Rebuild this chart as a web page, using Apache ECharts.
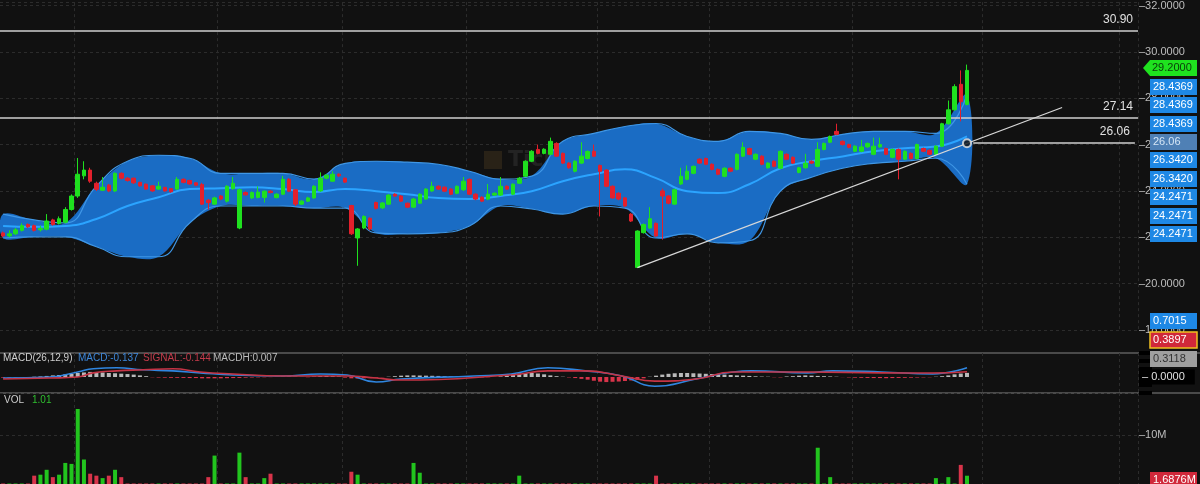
<!DOCTYPE html>
<html>
<head>
<meta charset="utf-8">
<script src="https://cdn.jsdelivr.net/npm/echarts@6/dist/echarts.min.js"></script>
<style>
  html, body { margin: 0; padding: 0; background: #111111; }
  #main { width: 1200px; height: 484px; }
</style>
</head>
<body>
<div id="main"></div>
<script type="text/javascript">
// candles: [open, close, low, high]
var ohlc = [
  [22.19,22.06,22.00,22.25],[22.06,22.15,22.00,22.30],[22.15,22.32,22.10,22.40],[22.30,22.50,22.25,22.60],[22.55,22.45,22.40,22.60],
  [22.50,22.30,22.25,22.55],[22.32,22.38,22.25,22.50],[22.35,22.70,22.30,23.00],[22.75,22.55,22.50,22.80],[22.60,22.80,22.55,22.90],
  [22.65,23.20,22.60,23.30],[23.20,23.78,23.15,23.85],[23.78,24.72,23.70,25.42],[24.65,24.90,24.50,25.28],[24.90,24.42,24.35,25.00],
  [24.33,24.07,24.00,24.40],[24.03,24.16,24.00,24.60],[24.25,24.00,23.95,24.30],[24.00,24.76,23.95,24.80],[24.76,24.55,24.50,24.80],
  [24.55,24.45,24.40,24.60],[24.55,24.35,24.30,24.58],[24.37,24.22,24.18,24.40],[24.29,24.08,24.05,24.32],[24.22,24.00,23.96,24.25],
  [24.08,24.20,24.05,24.40],[24.15,24.00,23.97,24.18],[24.10,23.96,23.92,24.12],[24.08,24.50,24.05,24.60],[24.50,24.37,24.33,24.55],
  [24.45,24.30,24.27,24.48],[24.35,24.25,24.20,24.38],[24.28,23.43,23.40,24.35],[23.60,23.50,23.20,23.65],[23.43,23.70,23.40,23.75],
  [23.78,23.65,23.60,23.82],[23.56,24.20,23.50,24.25],[24.10,24.33,24.05,24.60],[22.40,24.05,22.35,24.10],[23.93,23.83,23.80,23.98],
  [23.70,23.93,23.65,23.98],[23.72,23.95,23.68,24.20],[23.72,23.99,23.50,24.02],[23.99,23.93,23.90,24.03],[23.71,23.86,23.68,23.90],
  [23.86,24.50,23.82,24.65],[24.50,23.99,23.95,24.55],[24.05,23.43,23.35,24.08],[23.43,23.56,23.40,23.60],[23.56,23.70,23.52,23.75],
  [23.70,24.20,23.66,24.25],[24.00,24.55,23.96,24.80],[24.55,24.68,24.50,24.72],[24.42,24.72,24.40,24.85],[24.72,24.65,24.60,24.76],
  [24.55,24.38,24.34,24.58],[23.37,22.15,22.10,23.40],[21.97,22.36,20.77,22.40],[22.40,22.90,22.35,22.95],[22.82,22.36,22.30,22.86],
  [23.50,23.25,23.20,23.54],[23.27,23.48,23.22,23.52],[23.43,23.82,23.40,23.86],[23.86,23.78,23.74,23.90],[23.78,23.56,23.52,23.82],
  [23.47,23.30,23.26,23.50],[23.30,23.65,23.26,23.70],[23.47,23.86,23.44,23.90],[23.65,24.08,23.62,24.12],[24.00,24.20,23.96,24.40],
  [24.20,24.08,24.04,24.24],[24.16,23.99,23.95,24.20],[24.08,23.86,23.82,24.12],[23.90,24.20,23.86,24.24],[24.05,24.42,24.00,24.60],
  [24.50,23.86,23.82,24.54],[23.86,23.65,23.60,23.90],[23.73,23.56,23.52,23.77],[23.65,23.86,23.60,24.30],[23.82,23.90,23.78,23.94],
  [23.82,24.20,23.78,24.60],[24.20,24.08,24.04,24.24],[23.86,24.29,23.82,24.33],[24.33,24.55,24.30,24.60],[24.63,25.28,24.60,25.32],
  [25.28,25.71,25.24,25.76],[25.79,25.62,25.58,26.00],[25.62,25.80,25.58,25.84],[25.58,26.14,25.54,26.30],[26.05,25.50,25.46,26.10],
  [25.62,25.20,25.16,25.66],[25.20,25.00,24.96,25.24],[24.85,25.28,24.80,25.32],[25.20,25.50,25.16,26.10],[25.40,25.70,25.36,25.75],
  [25.71,25.50,25.46,26.00],[25.10,24.85,22.90,25.14],[24.90,24.20,24.16,24.94],[24.20,23.70,23.66,24.24],[23.90,23.65,23.60,23.94],
  [23.70,23.35,23.30,23.74],[23.00,22.70,22.66,23.04],[20.70,22.27,20.69,22.30],[22.20,22.55,22.16,22.60],[22.40,22.80,22.36,23.30],
  [22.60,22.06,22.02,22.64],[24.00,23.78,21.90,24.10],[23.78,23.47,23.42,23.82],[23.43,24.05,23.40,24.10],[24.30,24.63,24.26,25.00],
  [24.50,24.85,24.46,25.10],[24.76,25.06,24.72,25.10],[25.37,25.20,25.16,25.41],[25.40,25.15,25.11,25.44],[25.15,24.93,24.89,25.19],
  [24.93,24.72,24.68,24.97],[24.63,24.98,24.59,25.02],[24.98,24.85,24.81,25.02],[24.93,25.58,24.89,25.62],[25.50,25.88,25.46,26.10],
  [25.83,25.58,25.54,25.87],[25.37,25.58,25.33,25.62],[25.50,25.15,25.11,25.54],[25.00,25.20,24.96,25.24],[25.28,25.06,25.02,25.32],
  [24.98,25.71,24.94,25.75],[25.58,25.37,25.33,25.62],[25.45,25.20,25.16,25.49],[24.80,25.00,24.76,25.04],[25.00,25.20,24.96,25.60],
  [25.28,25.20,25.16,25.32],[25.06,25.79,25.02,26.10],[25.79,26.05,25.75,26.09],[26.10,26.35,26.06,26.39],[26.57,26.44,26.40,26.90],
  [26.14,26.00,25.96,26.18],[26.00,25.88,25.84,26.04],[25.71,25.93,25.67,25.97],[25.71,25.90,25.67,26.20],[25.90,26.05,25.86,26.09],
  [25.58,25.93,25.54,26.30],[25.90,26.00,25.86,26.30],[25.83,25.58,25.54,25.87],[25.45,25.79,25.41,25.83],[25.79,25.37,24.50,25.83],
  [25.37,25.71,25.33,25.75],[25.62,25.40,25.36,25.66],[25.40,26.00,25.36,26.04],[25.83,25.71,25.67,25.87],[25.75,25.58,25.54,25.79],
  [25.58,25.93,25.54,25.97],[25.93,26.90,25.89,26.94],[26.90,27.50,26.86,27.90],[27.50,28.50,27.46,28.60],[28.60,27.85,27.00,29.20],
  [27.73,29.20,27.69,29.45]
];

// bollinger bands, read every 5th candle
var bandIdx = [0,5,10,15,20,25,30,35,40,45,50,55,60,65,70,75,80,85,90,95,100,105,110,115,120,125,130,135,140,145,150,155];
var bandUpper = [23.00,22.75,22.62,24.21,25.28,25.54,25.41,24.76,24.76,24.76,24.51,25.19,25.28,25.24,25.15,24.85,24.51,24.64,26.14,26.48,26.78,26.91,26.35,26.14,26.57,26.48,26.22,26.44,26.57,26.57,26.48,28.15];
var bandMid = [22.49,22.45,22.49,22.79,23.35,23.73,24.08,24.12,24.16,24.08,23.95,24.08,23.99,23.86,23.69,23.65,23.78,23.99,24.42,24.72,24.93,24.55,23.99,23.91,24.29,24.98,25.28,25.49,25.71,25.84,25.92,26.35];
var bandLower = [21.97,22.02,22.02,21.59,21.16,21.16,22.62,23.35,23.35,23.35,23.26,23.26,22.19,22.15,22.19,22.49,23.35,23.22,23.00,23.35,23.26,21.97,22.15,21.76,21.85,23.99,24.59,24.98,25.19,25.28,25.41,24.29];

// MACD lines [candle index, value]
var macdLine = [[0,-0.08],[7.5,0],[12,0.38],[14.5,0.62],[18.3,0.69],[22.5,0.54],[27.3,0.46],[31.7,0.31],[37,0.15],[45,0.08],[51,0.23],[55.3,0.15],[60,-0.38],[64,-0.15],[75.7,0.08],[81.7,0.23],[87.6,0.69],[93.6,0.46],[99.5,0.08],[104.8,-0.69],[111.4,-0.15],[117.4,0.38],[120.4,0.46],[129.3,0.31],[133.4,0.46],[141.2,0.38],[149.5,0.23],[155,0.70]];
var signalLine = [[0,-0.15],[7.5,-0.08],[12,0],[14.5,0.31],[18.3,0.46],[22.5,0.54],[27.3,0.62],[31.7,0.38],[37,0.23],[45,0.08],[51,0.08],[55.3,0.08],[60,-0.08],[64,-0.23],[81.7,0.15],[87.6,0.46],[93.6,0.46],[99.5,0.08],[104.8,-0.31],[111.4,-0.15],[117.4,0.38],[129.3,0.38],[141.2,0.31],[149.5,0.30],[155,0.39]];
var macdHist = [
  -0.05,-0.05,-0.04,-0.03,-0.02,0.02,0.04,0.08,0.12,0.15,
  0.20,0.25,0.30,0.34,0.38,0.36,0.34,0.30,0.28,0.25,
  0.22,0.18,0.12,0.06,-0.02,-0.04,-0.05,-0.06,-0.06,-0.07,
  -0.08,-0.08,-0.10,-0.10,-0.10,-0.10,-0.09,-0.08,-0.07,-0.05,
  -0.04,-0.03,-0.02,-0.01,0.01,0.02,0.03,0.02,0.01,-0.02,
  0.03,0.06,0.08,0.06,0.04,-0.05,-0.10,-0.12,-0.10,-0.08,
  -0.05,-0.02,0.02,0.06,0.10,0.12,0.12,0.11,0.10,0.09,
  0.08,0.06,0.04,0.02,0.01,-0.02,-0.04,-0.03,-0.02,0.01,
  0.05,0.12,0.20,0.26,0.28,0.30,0.26,0.20,0.12,0.06,
  0.02,-0.03,-0.08,-0.14,-0.20,-0.28,-0.35,-0.38,-0.36,-0.34,
  -0.30,-0.26,-0.20,-0.10,0.02,0.10,0.18,0.24,0.28,0.30,
  0.30,0.28,0.26,0.24,0.22,0.20,0.18,0.15,0.12,0.10,
  0.08,0.05,0.03,0.02,-0.02,-0.03,0.04,0.06,0.10,0.12,
  0.10,0.08,0.06,0.04,0.02,-0.01,-0.03,-0.05,-0.06,-0.07,
  -0.08,-0.08,-0.09,-0.08,-0.07,-0.06,-0.05,-0.04,-0.03,-0.02,
  0.02,0.06,0.12,0.20,0.26,0.31
];

// volume in millions (small ones sit below the visible edge)
var volume = [
  0.1,0.1,0.1,0.1,0.1,1.7,1.9,2.9,1.4,1.9,
  4.3,4.1,15.3,5.0,2.1,1.7,1.2,1.7,2.9,1.4,
  0.1,0.1,0.1,0.1,0.1,0.1,0.1,0.1,0.1,0.1,
  0.1,0.1,0.1,1.4,5.8,0.1,0.1,0.1,6.4,1.4,
  0.1,0.1,1.2,2.1,0.1,0.1,0.1,0.1,0.1,0.1,
  0.1,0.1,0.1,0.1,0.1,0.1,2.5,1.9,0.1,0.1,
  0.1,0.1,0.1,0.1,0.1,0.1,4.3,2.3,0.1,0.1,
  0.1,0.1,0.1,0.1,0.1,0.1,0.1,0.1,0.1,0.1,
  0.1,0.1,0.1,1.7,0.1,0.1,0.1,0.1,0.1,0.1,
  0.1,0.1,0.1,0.1,0.1,0.1,0.1,0.1,0.1,0.1,
  0.1,0.1,0.1,0.1,0.1,1.7,0.1,0.1,0.1,0.1,
  0.1,0.1,0.1,0.1,0.1,0.1,0.1,0.1,0.1,0.1,
  0.1,0.1,0.1,0.1,0.1,0.1,0.1,0.1,0.1,0.1,
  0.1,7.4,0.1,1.4,0.1,0.1,0.1,0.1,0.1,0.1,
  0.1,0.1,0.1,0.1,0.1,0.1,0.1,0.1,0.1,0.1,
  1.2,0.1,1.4,0.1,3.9,1.69
];

var hLines = [30.90, 27.14];
var supportLevel = 26.06;
var trendLine = [[102, 20.69], [170.3, 27.60]];
var totalSlots = 183;

var UP = '#1fe01f', DOWN = '#e3202c';
var cats = [];
for (var i = 0; i < totalSlots; i++) cats.push(String(i));
var vSplit = [12, 35, 55, 75, 96, 114, 137, 158, 180];
function splitFn(idx) { return vSplit.indexOf(idx) >= 0; }
var dash = { show: true, interval: splitFn, lineStyle: { color: '#2c2c2c', type: [3, 3] } };

function pairs(idx, vals) { return idx.map(function (k, j) { return [k, vals[j]]; }); }

var volData = volume.map(function (v, j) {
  var c = ohlc[j];
  return { value: v, itemStyle: { color: c[1] >= c[0] ? '#22c41e' : '#d8344a' } };
});
var histData = macdHist.map(function (v) {
  return { value: v, itemStyle: { color: v >= 0 ? '#b9b9b9' : '#d8344a' } };
});

var chart = echarts.init(document.getElementById('main'));

var tags = [
  ['28.4369', 87], ['28.4369', 105], ['28.4369', 124], ['26.06', 142, '#4f80b5', '#d6e6f6'],
  ['26.3420', 160], ['26.3420', 179], ['24.2471', 197], ['24.2471', 216], ['24.2471', 234],
  ['0.7015', 321], ['0.3897', 340, '#d0283a', '#fff', '#f0c020'], ['0.3118', 359, '#a0a0a0', '#333'],
  ['1.6876M', 480, '#d0283a', '#fff']
];
var graphics = [];
tags.forEach(function (t) {
  graphics.push({
    type: 'group', x: 1150, y: t[1] - 8, z: 100,
    children: [
      { type: 'rect', z: 100, shape: { width: 47, height: 16 },
        style: { fill: t[2] || '#1e88e5', stroke: t[4] || null, lineWidth: t[4] ? 1.5 : 0 } },
      { type: 'text', z: 101, x: 3, y: 2, style: { text: t[0], fill: t[3] || '#fff', fontSize: 11, fontFamily: 'Liberation Sans' } }
    ]
  });
});
graphics.push({
  type: 'group', x: 1143, y: 60, z: 100,
  children: [
    { type: 'polygon', z: 100, shape: { points: [[0, 8], [7, 0], [54, 0], [54, 16], [7, 16]] }, style: { fill: '#1fe21f' } },
    { type: 'text', z: 101, x: 9, y: 2, style: { text: '29.2000', fill: '#0b3b0b', fontSize: 11, fontFamily: 'Liberation Sans' } }
  ]
});
graphics.push(
  { type: 'line', shape: { x1: 0, y1: 353, x2: 1200, y2: 353 }, style: { stroke: '#4a4a4a', lineWidth: 2 } },
  { type: 'line', shape: { x1: 0, y1: 393, x2: 1200, y2: 393 }, style: { stroke: '#4a4a4a', lineWidth: 2 } },
  { type: 'text', x: 3, y: 353, style: { text: 'MACD(26,12,9)', fill: '#cfcfcf', fontSize: 10, fontFamily: 'Liberation Sans' } },
  { type: 'text', x: 78, y: 353, style: { text: 'MACD:-0.137', fill: '#3d86d8', fontSize: 10, fontFamily: 'Liberation Sans' } },
  { type: 'text', x: 143, y: 353, style: { text: 'SIGNAL:-0.144', fill: '#c23a4a', fontSize: 10, fontFamily: 'Liberation Sans' } },
  { type: 'text', x: 213, y: 353, style: { text: 'MACDH:0.007', fill: '#bcbcbc', fontSize: 10, fontFamily: 'Liberation Sans' } },
  { type: 'text', x: 4, y: 395, style: { text: 'VOL', fill: '#cfcfcf', fontSize: 10, fontFamily: 'Liberation Sans' } },
  { type: 'text', x: 32, y: 395, style: { text: '1.01', fill: '#2fbf2f', fontSize: 10, fontFamily: 'Liberation Sans' } },
  { type: 'rect', shape: { x: 484, y: 151, width: 18, height: 18 }, style: { fill: 'rgba(255,190,80,0.10)' } },
  { type: 'text', x: 508, y: 149, style: { text: 'TickerChart', fill: 'rgba(255,255,255,0.08)', fontSize: 22, fontWeight: 'bold', fontFamily: 'DejaVu Sans' } }
);

chart.setOption({
  backgroundColor: '#111111',
  animation: false,
  grid: [
    { left: 0, right: 62, top: 0, height: 330 },
    { left: 0, right: 62, top: 353, height: 40 },
    { left: 0, right: 62, top: 393, height: 96 }
  ],
  xAxis: [
    { type: 'category', gridIndex: 0, data: cats, axisLine: { show: false }, axisTick: { show: false }, axisLabel: { show: false }, splitLine: dash },
    { type: 'value', gridIndex: 0, min: -0.5, max: totalSlots - 0.5, show: false },
    { type: 'category', gridIndex: 1, data: cats, axisLine: { show: false }, axisTick: { show: false }, axisLabel: { show: false }, splitLine: dash },
    { type: 'value', gridIndex: 1, min: -0.5, max: totalSlots - 0.5, show: false },
    { type: 'category', gridIndex: 2, data: cats, axisLine: { show: false }, axisTick: { show: false }, axisLabel: { show: false }, splitLine: dash }
  ],
  yAxis: [
    { type: 'value', gridIndex: 0, position: 'right', min: 18, max: 32.146, interval: 2,
      axisLine: { show: false }, axisTick: { show: false },
      axisLabel: { color: '#bdbdbd', fontSize: 11, margin: 1, showMaxLabel: false, fontFamily: 'Liberation Sans',
        formatter: function (v) { return Math.abs(v % 2) < 1e-6 ? '\u2013' + v.toFixed(4) : ''; } },
      splitLine: { show: true, lineStyle: { color: '#2c2c2c', type: [3, 3] } } },
    { type: 'value', gridIndex: 1, position: 'right', min: -1.2, max: 1.8, interval: 0.6,
      axisLine: { show: false }, axisTick: { show: false },
      axisLabel: { color: '#e0e0e0', fontSize: 11, margin: 1, backgroundColor: '#000', padding: [2, 10, 2, 3], fontFamily: 'Liberation Sans',
        formatter: function (v) { return Math.abs(v) < 1e-9 ? '\u2013 0.0000' : ''; } },
      splitLine: { show: false } },
    { type: 'value', gridIndex: 2, position: 'right', min: 0, max: 18.57, interval: 10,
      axisLine: { show: false }, axisTick: { show: false },
      axisLabel: { color: '#bdbdbd', fontSize: 11, margin: 1, fontFamily: 'Liberation Sans',
        formatter: function (v) { return v === 10 ? '\u201310M' : ''; } },
      splitLine: { show: true, lineStyle: { color: '#2c2c2c', type: [3, 3] } } }
  ],
  graphic: graphics,
  series: [
    { type: 'custom', xAxisIndex: 1, yAxisIndex: 0, data: [[0, 0]], silent: true, z: 1, clip: true,
      renderItem: function (params, api) {
        var pts = [];
        bandIdx.forEach(function (k, j) { pts.push(api.coord([k, bandUpper[j]])); });
        for (var j = bandIdx.length - 1; j >= 0; j--) pts.push(api.coord([bandIdx[j], bandLower[j]]));
        return { type: 'polygon', shape: { points: pts, smooth: 0.35 }, style: { fill: '#1a6cc4' } };
      } },
    { type: 'line', xAxisIndex: 1, yAxisIndex: 0, data: pairs(bandIdx, bandUpper), smooth: true, symbol: 'none',
      lineStyle: { color: '#3f97e6', width: 1.2 }, z: 2 },
    { type: 'line', xAxisIndex: 1, yAxisIndex: 0, data: pairs(bandIdx, bandLower), smooth: true, symbol: 'none',
      lineStyle: { color: '#3f97e6', width: 1.2 }, z: 2 },
    { type: 'line', xAxisIndex: 1, yAxisIndex: 0, data: pairs(bandIdx, bandMid), smooth: true, symbol: 'none',
      lineStyle: { color: '#2ba4ff', width: 2 }, z: 3 },
    { type: 'candlestick', xAxisIndex: 0, yAxisIndex: 0, data: ohlc, barWidth: 4, z: 5,
      itemStyle: { color: UP, color0: DOWN, borderColor: UP, borderColor0: DOWN, borderWidth: 1 },
      markLine: {
        symbol: 'none', silent: true,
        lineStyle: { color: '#cfcfcf', width: 1.5, type: 'solid' },
        label: { position: 'insideEndTop', color: '#e0e0e0', fontSize: 12, formatter: function (p) { return Number(p.value).toFixed(2); } },
        data: hLines.map(function (v) { return { yAxis: v }; }).concat([[
          { coord: [156, supportLevel], value: supportLevel }, { coord: [182, supportLevel], value: supportLevel }
        ]])
      } },
    { type: 'line', xAxisIndex: 1, yAxisIndex: 0, data: trendLine, symbol: 'none',
      lineStyle: { color: '#d8d8d8', width: 1.2 }, z: 6 },
    { type: 'scatter', xAxisIndex: 1, yAxisIndex: 0, data: [[155, supportLevel]], symbol: 'circle', symbolSize: 8,
      itemStyle: { color: '#111', borderColor: '#e8e8e8', borderWidth: 2 }, z: 7 },
    { type: 'bar', xAxisIndex: 2, yAxisIndex: 1, data: histData, barWidth: 4 },
    { type: 'line', xAxisIndex: 3, yAxisIndex: 1, data: macdLine, smooth: true, symbol: 'none',
      lineStyle: { color: '#2f86e0', width: 1.6 } },
    { type: 'line', xAxisIndex: 3, yAxisIndex: 1, data: signalLine, smooth: true, symbol: 'none',
      lineStyle: { color: '#c53445', width: 1.6 } },
    { type: 'bar', xAxisIndex: 4, yAxisIndex: 2, data: volData, barWidth: 4 }
  ]
});
</script>
</body>
</html>
